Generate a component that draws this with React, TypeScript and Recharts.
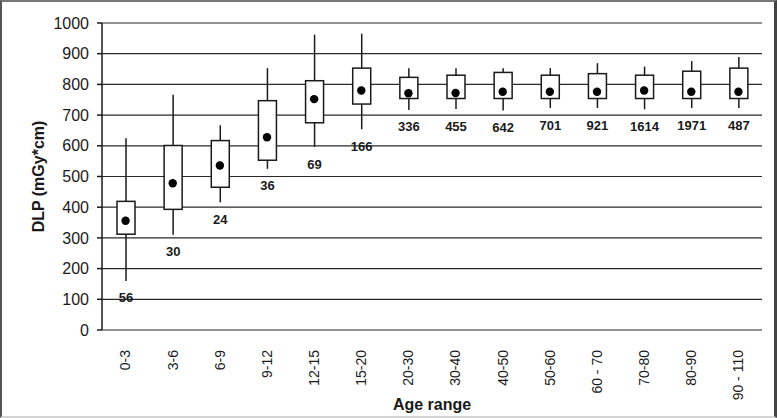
import React from 'react';
import { ComposedChart, Bar, Scatter, XAxis, YAxis, CartesianGrid, Label } from 'recharts';

// age groups and DLP box statistics
const ageRanges = ['0-3', '3-6', '6-9', '9-12', '12-15', '15-20', '20-30', '30-40', '40-50', '50-60', '60 - 70', '70-80', '80-90', '90 - 110'];
const whiskerHigh = [625, 766, 667, 853, 962, 965, 853, 853, 853, 853, 869, 858, 876, 889];
const boxHigh = [419, 601, 617, 747, 812, 853, 823, 830, 839, 830, 835, 830, 843, 853];
const midValue = [356, 478, 536, 628, 752, 780, 771, 772, 776, 776, 776, 780, 776, 776];
const boxLow = [312, 393, 465, 553, 675, 736, 754, 754, 754, 754, 754, 754, 754, 754];
const whiskerLow = [160, 310, 416, 525, 596, 654, 717, 720, 715, 723, 723, 719, 723, 723];
const counts = [56, 30, 24, 36, 69, 166, 336, 455, 642, 701, 921, 1614, 1971, 487];
const yTicks = [0, 100, 200, 300, 400, 500, 600, 700, 800, 900, 1000];
const edgeTicks = ageRanges.map((_, i) => i).concat([ageRanges.length]);

const data = ageRanges.map((range, i) => ({
  range,
  span: [whiskerLow[i], whiskerHigh[i]],
  q1: boxLow[i],
  q3: boxHigh[i],
  mid: midValue[i],
  n: counts[i],
}));

const FONT = '"Liberation Sans", Arial, sans-serif';
const INK = '#1a1a1a';

// whisker + box + sample size, drawn from the range bar geometry
const BoxShape = (props: any) => {
  const { x, y, width, height, payload } = props;
  if (!payload) return null;
  const [lo, hi] = payload.span;
  const per = height / (hi - lo);
  const yOf = (v: number) => y + (hi - v) * per;
  const cx = x + width / 2;
  return (
    <g>
      <line x1={cx} x2={cx} y1={yOf(hi)} y2={yOf(lo)} stroke={INK} strokeWidth={1.5} />
      <rect
        x={x}
        y={yOf(payload.q3)}
        width={width}
        height={yOf(payload.q1) - yOf(payload.q3)}
        fill="#fff"
        stroke={INK}
        strokeWidth={1.5}
      />
      <text x={cx} y={yOf(lo) + 17} dy="0.35em" textAnchor="middle" fontFamily={FONT} fontSize={13} fontWeight="bold" fill={INK}>
        {payload.n}
      </text>
    </g>
  );
};

const MidDot = (props: any) => <circle cx={props.cx} cy={props.cy} r={4.2} fill="#000" />;

const AgeTick = (props: any) => {
  const { x, y, payload } = props;
  return (
    <text
      transform={`translate(${x},${y + 12}) rotate(-90)`}
      dy="0.35em"
      textAnchor="end"
      fontFamily={FONT}
      fontSize={14}
      fill={INK}
    >
      {payload.value}
    </text>
  );
};

const YTitle = (props: any) => {
  const vb = props.viewBox;
  const cy = vb.y + vb.height / 2;
  return (
    <text transform={`translate(38,${cy}) rotate(-90)`} dy="0.35em" textAnchor="middle" fontFamily={FONT} fontSize={16} fontWeight="bold" fill={INK}>
      DLP (mGy*cm)
    </text>
  );
};

const XTitle = (props: any) => {
  const vb = props.viewBox;
  return (
    <text x={vb.x + vb.width / 2} y={410} textAnchor="middle" fontFamily={FONT} fontSize={16} fontWeight="bold" fill={INK}>
      Age range
    </text>
  );
};

export default function App() {
  return (
    <div
      style={{
        position: 'absolute',
        left: 0,
        top: 0,
        width: 777,
        height: 418,
        boxSizing: 'border-box',
        background: '#fff',
        borderLeft: '2px solid #555',
        borderTop: '2px solid #777',
        borderRight: '3px solid #444',
        borderBottom: '2px solid #d4d4d4',
      }}
    >
      <div style={{ position: 'absolute', left: -2, top: -2 }}>
        <ComposedChart width={777} height={418} data={data} margin={{ top: 23, right: 15, left: 0, bottom: 8 }}>
          <CartesianGrid xAxisId="cat" horizontal vertical={false} stroke="#2a2a2a" strokeWidth={1.2} />
          <XAxis
            xAxisId="edges"
            type="number"
            domain={[0, ageRanges.length]}
            ticks={edgeTicks}
            height={0}
            tick={false}
            tickSize={5}
            axisLine={{ stroke: INK, strokeWidth: 1.5 }}
            tickLine={{ stroke: INK, strokeWidth: 1.5 }}
          />
          <XAxis
            xAxisId="cat"
            dataKey="range"
            height={80}
            axisLine={false}
            tickLine={false}
            interval={0}
            tick={<AgeTick />}
          >
            <Label content={<XTitle />} />
          </XAxis>
          <YAxis
            width={102}
            domain={[0, 1000]}
            ticks={yTicks}
            interval={0}
            tickSize={5}
            tickMargin={8}
            axisLine={{ stroke: INK, strokeWidth: 1.5 }}
            tickLine={{ stroke: INK, strokeWidth: 1.5 }}
            tick={{ fontFamily: FONT, fontSize: 16, fill: INK }}
          >
            <Label content={<YTitle />} />
          </YAxis>
          <Bar xAxisId="cat" dataKey="span" barSize={18} shape={<BoxShape />} isAnimationActive={false} />
          <Scatter xAxisId="cat" dataKey="mid" shape={<MidDot />} isAnimationActive={false} />
        </ComposedChart>
      </div>
    </div>
  );
}
